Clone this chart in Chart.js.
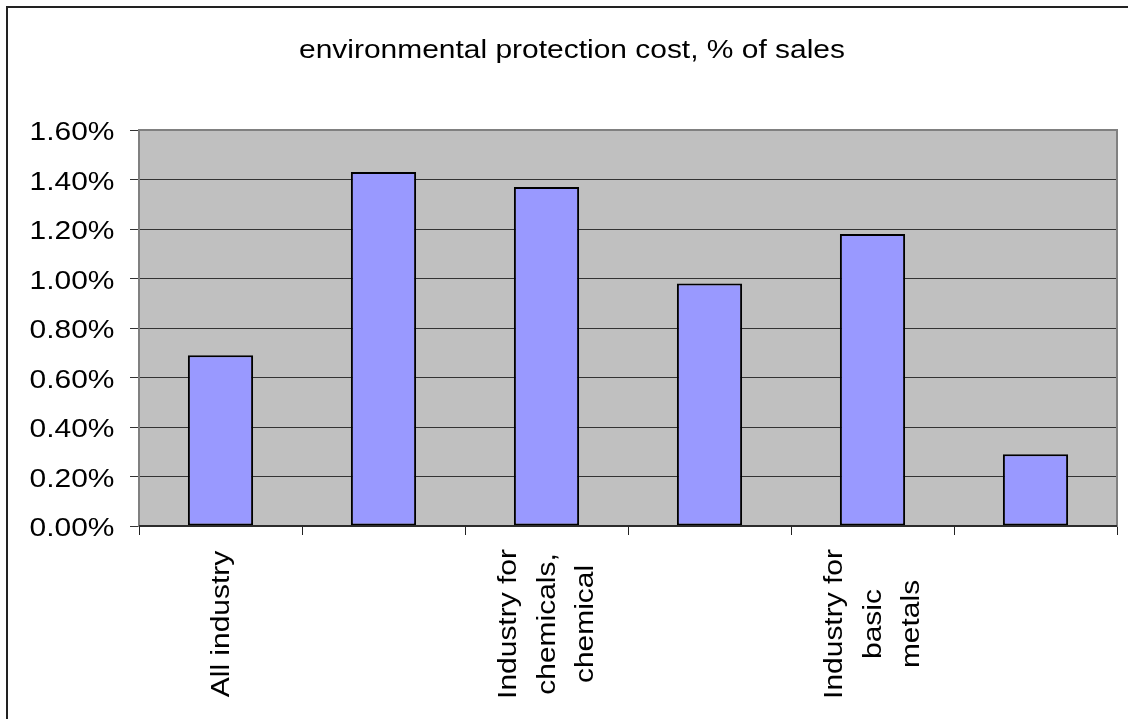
<!DOCTYPE html>
<html>
<head>
<meta charset="utf-8">
<script src="https://cdn.jsdelivr.net/npm/chart.js@4"></script>
<style>
  body { margin: 0; background: #fff; }
  #wrap { width: 1128px; height: 719px; }
</style>
</head>
<body>
<div id="wrap"><canvas id="myChart"></canvas></div>
<script>
// categories (Excel only showed every other label)
const categories = [
  ['All industry'],
  [''],
  ['Industry for', 'chemicals,', 'chemical'],
  [''],
  ['Industry for', 'basic', 'metals'],
  ['']
];
const costPct = [0.69, 1.43, 1.37, 0.98, 1.18, 0.29];
const yTicks = [0, 0.2, 0.4, 0.6, 0.8, 1.0, 1.2, 1.4, 1.6];
const chartTitle = 'environmental protection cost, % of sales';

const FONT = '26.5px "Liberation Sans", Arial, sans-serif';
const WIDEN = 1.13; // the old export draws its Arial a bit wide

function wideText(ctx, text, x, y, align, angle) {
  ctx.save();
  ctx.translate(x, y);
  if (angle) ctx.rotate(angle);
  ctx.scale(WIDEN, 1);
  ctx.textAlign = align;
  ctx.fillText(text, 0, 0);
  ctx.restore();
}

// plot background, frame and all the text
const excelLook = {
  id: 'excelLook',
  beforeDraw(chart) {
    const ctx = chart.ctx;
    const a = chart.chartArea;
    ctx.save();
    ctx.fillStyle = '#c0c0c0';
    ctx.fillRect(a.left, a.top, a.right - a.left, a.bottom - a.top);
    ctx.strokeStyle = '#222';
    ctx.lineWidth = 2;
    ctx.strokeRect(7, 7, 1300, 900);
    ctx.restore();
  },
  afterDraw(chart) {
    const ctx = chart.ctx;
    const a = chart.chartArea;
    ctx.save();
    ctx.strokeStyle = '#808080';
    ctx.lineWidth = 2;
    ctx.strokeRect(a.left, a.top, a.right - a.left, a.bottom - a.top);
    ctx.strokeStyle = '#111';
    ctx.lineWidth = 1.5;
    ctx.beginPath();
    ctx.moveTo(a.left, a.bottom);
    ctx.lineTo(a.right, a.bottom);
    ctx.stroke();

    ctx.fillStyle = '#000';
    ctx.font = FONT;
    ctx.textBaseline = 'alphabetic';

    wideText(ctx, chartTitle, 572, 58, 'center');

    const ys = chart.scales.y;
    yTicks.forEach(v => {
      wideText(ctx, v.toFixed(2) + '%', 114.5, ys.getPixelForValue(v) + 10, 'right');
    });

    const xs = chart.scales.x;
    categories.forEach((lines, i) => {
      const x = xs.getPixelForValue(i);
      lines.forEach((t, j) => {
        const off = (j - (lines.length - 1) / 2) * 38.5 + 8;
        wideText(ctx, t, x + off, 624, 'center', -Math.PI / 2);
      });
    });
    ctx.restore();
  }
};

new Chart(document.getElementById('myChart'), {
  type: 'bar',
  data: {
    labels: categories,
    datasets: [{
      data: costPct,
      backgroundColor: '#9999ff',
      borderColor: '#000',
      borderWidth: 2,
      borderSkipped: false,
      barPercentage: 0.4,
      categoryPercentage: 1.0
    }]
  },
  options: {
    responsive: true,
    maintainAspectRatio: false,
    animation: false,
    devicePixelRatio: 1,
    layout: { padding: { left: 0, right: 11, top: 130, bottom: 0 } },
    plugins: {
      legend: { display: false },
      tooltip: { enabled: false },
      title: { display: false }
    },
    scales: {
      x: {
        offset: true,
        grid: {
          offset: true,
          drawOnChartArea: false,
          drawTicks: true,
          tickLength: 9,
          color: '#222',
          lineWidth: 1
        },
        border: { display: false },
        ticks: { display: false },
        afterFit(scale) { scale.height = 193; }
      },
      y: {
        min: 0,
        max: 1.6,
        afterBuildTicks(scale) { scale.ticks = yTicks.map(v => ({ value: v })); },
        grid: {
          color: '#333',
          lineWidth: 1,
          tickLength: 9
        },
        border: { display: false },
        ticks: { display: false },
        afterFit(scale) { scale.width = 139; }
      }
    }
  },
  plugins: [excelLook]
});
</script>
</body>
</html>
